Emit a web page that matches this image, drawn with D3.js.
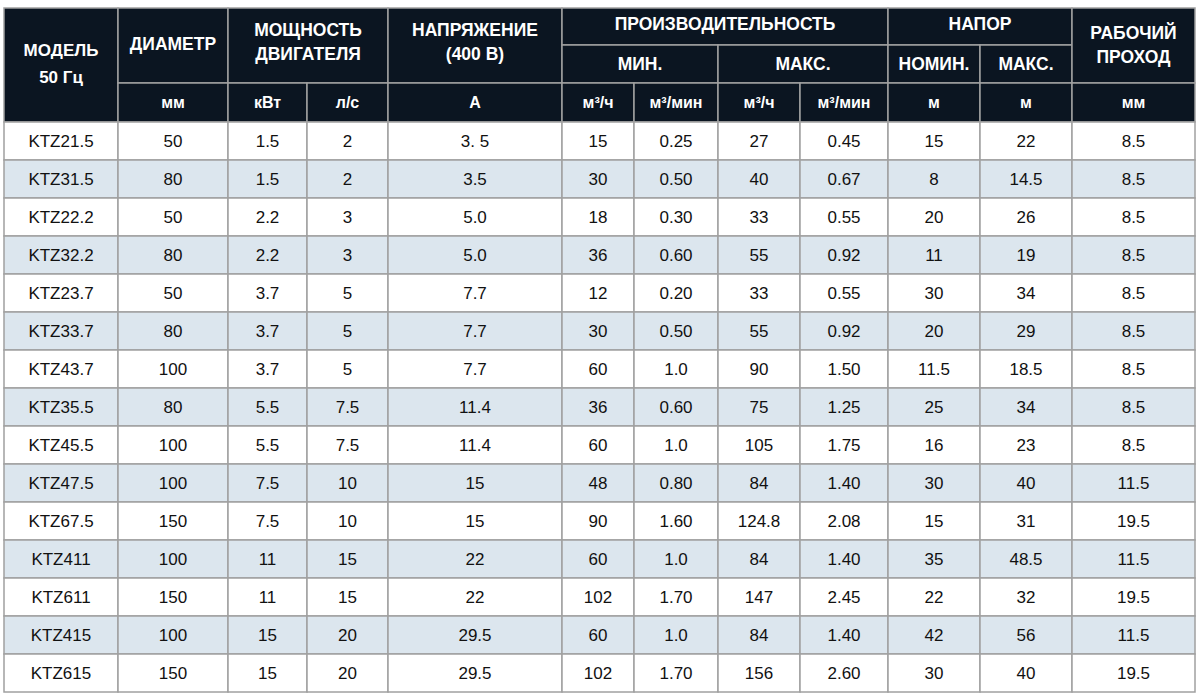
<!DOCTYPE html>
<html><head><meta charset="utf-8">
<script src="https://cdn.jsdelivr.net/npm/d3@7"></script>
<style>body{margin:0;background:#fff}svg{display:block}text{font-family:Arial,"Liberation Sans",sans-serif}</style>
</head><body><svg id="c" width="1200" height="695"></svg>
<script>
const models=["KTZ21.5","KTZ31.5","KTZ22.2","KTZ32.2","KTZ23.7","KTZ33.7","KTZ43.7","KTZ35.5","KTZ45.5","KTZ47.5","KTZ67.5","KTZ411","KTZ611","KTZ415","KTZ615"];
const diameter=["50","80","50","80","50","80","100","80","100","100","150","100","150","100","150"];
const powerKw=["1.5","1.5","2.2","2.2","3.7","3.7","3.7","5.5","5.5","7.5","7.5","11","11","15","15"];
const powerLs=["2","2","3","3","5","5","5","7.5","7.5","10","10","15","15","20","20"];
const current=["3. 5","3.5","5.0","5.0","7.7","7.7","7.7","11.4","11.4","15","15","22","22","29.5","29.5"];
const minM3h=["15","30","18","36","12","30","60","36","60","48","90","60","102","60","102"];
const minM3min=["0.25","0.50","0.30","0.60","0.20","0.50","1.0","0.60","1.0","0.80","1.60","1.0","1.70","1.0","1.70"];
const maxM3h=["27","40","33","55","33","55","90","75","105","84","124.8","84","147","84","156"];
const maxM3min=["0.45","0.67","0.55","0.92","0.55","0.92","1.50","1.25","1.75","1.40","2.08","1.40","2.45","1.40","2.60"];
const headNom=["15","8","20","11","30","20","11.5","25","16","30","15","35","22","42","30"];
const headMax=["22","14.5","26","19","34","29","18.5","34","23","40","31","48.5","32","56","40"];
const passage=["8.5","8.5","8.5","8.5","8.5","8.5","8.5","8.5","8.5","11.5","19.5","11.5","19.5","11.5","19.5"];
const units=["мм","кВт","л/с","А","м³/ч","м³/мин","м³/ч","м³/мин","м","м","мм"];
const columns=[models,diameter,powerKw,powerLs,current,minM3h,minM3min,maxM3h,maxM3min,headNom,headMax,passage];
const colEdges=[4,118,228,307,388,562,634,718,800,888,980,1072,1195];

const svg=d3.select("#c");
const x=i=>colEdges[i];
const y=d3.scaleLinear().domain([0,15]).range([122,692]);
const border="#a0a0a0", dark="#0b1521";
const hy=[8,45,83,122];
// [c0,c1,r0,r1,lines,firstLineY]
const hdr=[
 [0,1,0,3,["МОДЕЛЬ","50 Гц"],50],[1,2,0,2,["ДИАМЕТР"],44],[2,4,0,2,["МОЩНОСТЬ","ДВИГАТЕЛЯ"],30],[4,5,0,2,["НАПРЯЖЕНИЕ","(400 В)"],30],
 [5,9,0,1,["ПРОИЗВОДИТЕЛЬНОСТЬ"],24],[5,7,1,2,["МИН."],64],[7,9,1,2,["МАКС."],64],
 [9,11,0,1,["НАПОР"],24],[9,10,1,2,["НОМИН."],64],[10,11,1,2,["МАКС."],64],[11,12,0,2,["РАБОЧИЙ","ПРОХОД"],33]
];
units.forEach((u,i)=>hdr.push([i+1,i+2,2,3,[u],102]));
const g=svg.append("g");
hdr.forEach(([c0,c1,r0,r1,lines,ty])=>{
  const x0=x(c0),x1=x(c1),y0=hy[r0],y1=hy[r1];
  g.append("rect").attr("x",x0).attr("y",y0).attr("width",x1-x0).attr("height",y1-y0).attr("fill",dark).attr("stroke",border).attr("stroke-width",1.5);
  const fs = r0===2 ? 16 : (c0===0 ? 17 : 17.5);
  lines.forEach((l,k)=>g.append("text").attr("x",(x0+x1)/2).attr("y",ty+k*(c0===0?27:24)).attr("dy","0.36em")
    .attr("text-anchor","middle").attr("fill","#fff").attr("font-weight","bold").attr("font-size",fs).text(l));
});
models.forEach((m,r)=>{
  columns.forEach((col,c)=>{
    g.append("rect").attr("x",x(c)).attr("y",y(r)).attr("width",x(c+1)-x(c)).attr("height",y(r+1)-y(r))
      .attr("fill",r%2?"#dce6ee":"#fff").attr("stroke",border).attr("stroke-width",1.5);
    g.append("text").attr("x",(x(c)+x(c+1))/2).attr("y",(y(r)+y(r+1))/2).attr("dy","0.36em")
      .attr("text-anchor","middle").attr("fill","#111").attr("font-size",17).text(col[r]);
  });
});
</script></body></html>
